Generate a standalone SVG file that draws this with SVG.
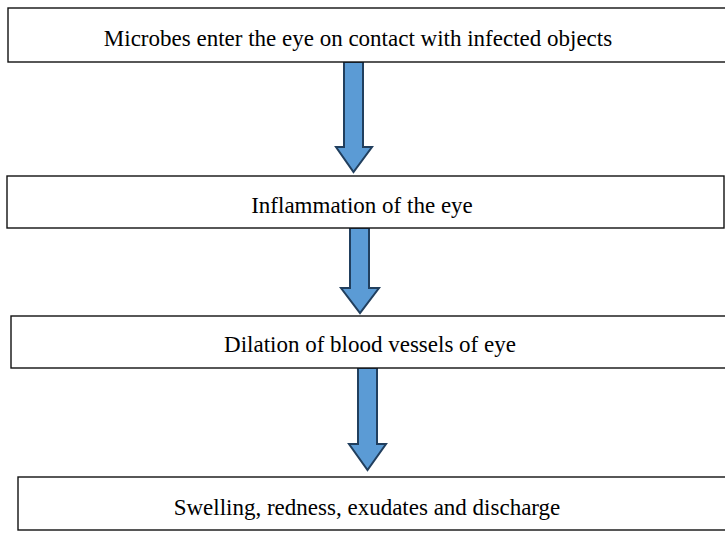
<svg xmlns="http://www.w3.org/2000/svg" width="725" height="555" viewBox="0 0 725 555">
<style>
.box{fill:#fff;stroke:#111;stroke-width:1.4}
.lbl{font-family:"Liberation Serif","Times New Roman",serif;font-size:23px;fill:#000;text-anchor:middle}
.arr{fill:#5B9BD5;stroke:#213f5e;stroke-width:2;stroke-linejoin:miter}
</style>
<rect width="725" height="555" fill="#fff"/>
<g id="connectors">
<path class="arr" d="M344,62 H363 V147 H372 L353.5,172 L336,147 H344 Z"/>
<path class="arr" d="M350,228 H369 V288 H379 L360,313 L341,288 H350 Z"/>
<path class="arr" d="M358,368 H377 V444 H386 L367.5,470 L349,444 H358 Z"/>
</g>
<g id="n1"><rect class="box" x="8" y="8" width="730" height="54"/><text class="lbl" x="358" y="46">Microbes enter the eye on contact with infected objects</text></g>
<g id="n2"><rect class="box" x="7" y="176" width="717" height="52"/><text class="lbl" x="362" y="213">Inflammation of the eye</text></g>
<g id="n3"><rect class="box" x="11" y="316" width="730" height="52"/><text class="lbl" x="370" y="352">Dilation of blood vessels of eye</text></g>
<g id="n4"><rect class="box" x="18" y="477" width="730" height="53"/><text class="lbl" x="367" y="515">Swelling, redness, exudates and discharge</text></g>
</svg>
